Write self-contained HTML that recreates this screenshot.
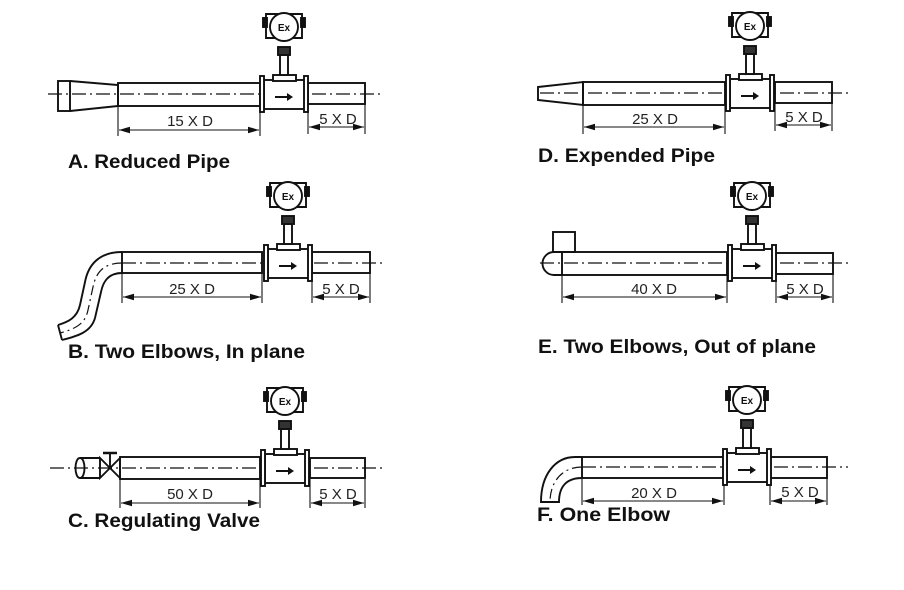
<!DOCTYPE html>
<html><head><meta charset="utf-8"><style>
html,body{margin:0;padding:0;background:#fff;}
svg{display:block}
text{font-family:"Liberation Sans",sans-serif;}
.l{font-weight:bold;font-size:19px;fill:#111}
.d{font-size:15px;fill:#222}
</style></head><body>
<svg width="904" height="590" viewBox="0 0 904 590" xmlns="http://www.w3.org/2000/svg">
<defs>
<g id="m" stroke="#111" stroke-width="1.9" fill="#fff">
 <rect x="-20" y="-14" width="41" height="29"/>
 <rect x="-24" y="-18" width="4" height="36" fill="#fff"/>
 <rect x="20" y="-18" width="4" height="36" fill="#fff"/>
 <rect x="-11" y="-19" width="23" height="6"/>
 <rect x="-4" y="-39" width="8" height="20" fill="#fff"/>
 <rect x="-6" y="-47" width="12" height="8" fill="#333"/>
 <path d="M-18 -80 L18 -80 L18 -56 L-18 -56 Z" fill="#fff"/>
 <rect x="-21" y="-76" width="4" height="9" fill="#111"/>
 <rect x="17" y="-76" width="4" height="9" fill="#111"/>
 <circle cx="0" cy="-67" r="14" fill="#fff"/>
 <text x="0" y="-63" text-anchor="middle" font-family="Liberation Serif,serif" font-size="10" font-weight="bold" fill="#111" stroke="none">Ex</text>
 <path d="M-9 2 L3 2 L3 -1 L9 3 L3 7 L3 4 L-9 4 Z" fill="#111" stroke="none"/>
</g>
<marker id="ar" viewBox="0 0 10 6" refX="10" refY="3" markerWidth="10" markerHeight="6" orient="auto-start-reverse"><path d="M0 0 L10 3 L0 6 Z" fill="#111"/></marker>
</defs>

<g stroke="#111" stroke-width="1.9" fill="none">
<!-- A -->
<rect x="58" y="81" width="12" height="30" fill="#fff"/>
<path d="M70 81 L118 85 L118 106 L70 111"/>
<rect x="118" y="83" width="142" height="23"/>
<rect x="308" y="83" width="57" height="21"/>
<line x1="48" y1="94" x2="380" y2="94" stroke-dasharray="14 4 2 4" stroke-width="1.3"/>
<line x1="118" y1="106" x2="118" y2="136" stroke-width="1.1"/>
<line x1="260" y1="106" x2="260" y2="136" stroke-width="1.1"/>
<line x1="308" y1="104" x2="308" y2="134" stroke-width="1.1"/>
<line x1="365" y1="104" x2="365" y2="134" stroke-width="1.1"/>
<line x1="119" y1="130" x2="259" y2="130" stroke-width="1.1" marker-start="url(#ar)" marker-end="url(#ar)"/>
<line x1="309" y1="127" x2="364" y2="127" stroke-width="1.1" marker-start="url(#ar)" marker-end="url(#ar)"/>

<!-- D -->
<path d="M538 87 L583 82 L583 105 L538 100 Z" fill="#fff"/>
<rect x="583" y="82" width="142" height="23"/>
<rect x="775" y="82" width="57" height="21"/>
<line x1="540" y1="93" x2="850" y2="93" stroke-dasharray="14 4 2 4" stroke-width="1.3"/>
<line x1="583" y1="105" x2="583" y2="134" stroke-width="1.1"/>
<line x1="725" y1="105" x2="725" y2="134" stroke-width="1.1"/>
<line x1="775" y1="103" x2="775" y2="131" stroke-width="1.1"/>
<line x1="832" y1="103" x2="832" y2="131" stroke-width="1.1"/>
<line x1="584" y1="127" x2="724" y2="127" stroke-width="1.1" marker-start="url(#ar)" marker-end="url(#ar)"/>
<line x1="776" y1="125" x2="831" y2="125" stroke-width="1.1" marker-start="url(#ar)" marker-end="url(#ar)"/>

<!-- B -->
<rect x="122" y="252" width="140" height="21"/>
<rect x="312" y="252" width="58" height="21"/>
<path d="M122 252 C98 252 88 266 85 282 L80 305 C77 318 68 322 58 325"/>
<path d="M122 273 C108 273 103 282 101 292 L95 318 C91 332 78 336 62 340"/>
<path d="M58 325 L62 340"/>
<path d="M122 263 C104 263 96 272 93 287 L88 310 C85 325 74 329 60 333" stroke-dasharray="10 4 2 4" stroke-width="1.2"/>
<line x1="122" y1="263" x2="385" y2="263" stroke-dasharray="14 4 2 4" stroke-width="1.3"/>
<line x1="122" y1="273" x2="122" y2="303" stroke-width="1.1"/>
<line x1="262" y1="273" x2="262" y2="303" stroke-width="1.1"/>
<line x1="312" y1="273" x2="312" y2="303" stroke-width="1.1"/>
<line x1="370" y1="273" x2="370" y2="303" stroke-width="1.1"/>
<line x1="123" y1="297" x2="261" y2="297" stroke-width="1.1" marker-start="url(#ar)" marker-end="url(#ar)"/>
<line x1="313" y1="297" x2="369" y2="297" stroke-width="1.1" marker-start="url(#ar)" marker-end="url(#ar)"/>

<!-- E -->
<rect x="553" y="232" width="22" height="20" fill="#fff"/>
<path d="M562 252 L554 252 A11.5 11.5 0 0 0 554 275 L562 275"/>
<rect x="562" y="252" width="165" height="23"/>
<rect x="776" y="253" width="57" height="21"/>
<line x1="540" y1="263" x2="848" y2="263" stroke-dasharray="14 4 2 4" stroke-width="1.3"/>
<line x1="562" y1="275" x2="562" y2="303" stroke-width="1.1"/>
<line x1="727" y1="275" x2="727" y2="303" stroke-width="1.1"/>
<line x1="776" y1="274" x2="776" y2="303" stroke-width="1.1"/>
<line x1="833" y1="274" x2="833" y2="303" stroke-width="1.1"/>
<line x1="563" y1="297" x2="726" y2="297" stroke-width="1.1" marker-start="url(#ar)" marker-end="url(#ar)"/>
<line x1="777" y1="297" x2="832" y2="297" stroke-width="1.1" marker-start="url(#ar)" marker-end="url(#ar)"/>

<!-- C -->
<path d="M100 458 L80 458 C74 458 74 478 80 478 L100 478"/>
<path d="M80 458 C86 458 86 478 80 478"/>
<path d="M100 458 L120 478 L120 458 L100 478 Z" fill="#fff"/>
<line x1="110" y1="468" x2="110" y2="453"/>
<line x1="103" y1="453" x2="117" y2="453" stroke-width="2.5"/>
<rect x="120" y="457" width="140" height="22"/>
<rect x="310" y="458" width="55" height="20"/>
<line x1="50" y1="468" x2="382" y2="468" stroke-dasharray="14 4 2 4" stroke-width="1.3"/>
<line x1="120" y1="479" x2="120" y2="508" stroke-width="1.1"/>
<line x1="260" y1="479" x2="260" y2="508" stroke-width="1.1"/>
<line x1="310" y1="478" x2="310" y2="508" stroke-width="1.1"/>
<line x1="365" y1="478" x2="365" y2="508" stroke-width="1.1"/>
<line x1="121" y1="503" x2="259" y2="503" stroke-width="1.1" marker-start="url(#ar)" marker-end="url(#ar)"/>
<line x1="311" y1="503" x2="364" y2="503" stroke-width="1.1" marker-start="url(#ar)" marker-end="url(#ar)"/>

<!-- F -->
<rect x="582" y="457" width="142" height="21"/>
<rect x="770" y="457" width="57" height="21"/>
<path d="M582 457 L575 457 C555 457 541 475 541 502 L559 502 C559 486 567 478 582 478"/>
<path d="M582 467 C562 467 550 482 550 502" stroke-dasharray="10 4 2 4" stroke-width="1.2"/>
<line x1="582" y1="467" x2="848" y2="467" stroke-dasharray="14 4 2 4" stroke-width="1.3"/>
<line x1="582" y1="478" x2="582" y2="505" stroke-width="1.1"/>
<line x1="724" y1="478" x2="724" y2="505" stroke-width="1.1"/>
<line x1="770" y1="478" x2="770" y2="505" stroke-width="1.1"/>
<line x1="827" y1="478" x2="827" y2="505" stroke-width="1.1"/>
<line x1="583" y1="501" x2="723" y2="501" stroke-width="1.1" marker-start="url(#ar)" marker-end="url(#ar)"/>
<line x1="771" y1="501" x2="826" y2="501" stroke-width="1.1" marker-start="url(#ar)" marker-end="url(#ar)"/>
</g>

<use href="#m" x="284" y="94"/>
<use href="#m" x="750" y="93"/>
<use href="#m" x="288" y="263"/>
<use href="#m" x="752" y="263"/>
<use href="#m" x="285" y="468"/>
<use href="#m" x="747" y="467"/>

<text class="d" x="190" y="126" text-anchor="middle">15 X D</text>
<text class="d" x="338" y="124" text-anchor="middle">5 X D</text>
<text class="d" x="655" y="124" text-anchor="middle">25 X D</text>
<text class="d" x="804" y="122" text-anchor="middle">5 X D</text>
<text class="d" x="192" y="294" text-anchor="middle">25 X D</text>
<text class="d" x="341" y="294" text-anchor="middle">5 X D</text>
<text class="d" x="654" y="294" text-anchor="middle">40 X D</text>
<text class="d" x="805" y="294" text-anchor="middle">5 X D</text>
<text class="d" x="190" y="499" text-anchor="middle">50 X D</text>
<text class="d" x="338" y="499" text-anchor="middle">5 X D</text>
<text class="d" x="654" y="498" text-anchor="middle">20 X D</text>
<text class="d" x="800" y="497" text-anchor="middle">5 X D</text>

<text class="l" x="68" y="168" textLength="162" lengthAdjust="spacingAndGlyphs">A. Reduced Pipe</text>
<text class="l" x="538" y="162" textLength="177" lengthAdjust="spacingAndGlyphs">D. Expended Pipe</text>
<text class="l" x="68" y="358" textLength="237" lengthAdjust="spacingAndGlyphs">B. Two Elbows, In plane</text>
<text class="l" x="538" y="353" textLength="278" lengthAdjust="spacingAndGlyphs">E. Two Elbows, Out of plane</text>
<text class="l" x="68" y="527" textLength="192" lengthAdjust="spacingAndGlyphs">C. Regulating Valve</text>
<text class="l" x="537" y="521" textLength="133" lengthAdjust="spacingAndGlyphs">F. One Elbow</text>
</svg>
</body></html>
